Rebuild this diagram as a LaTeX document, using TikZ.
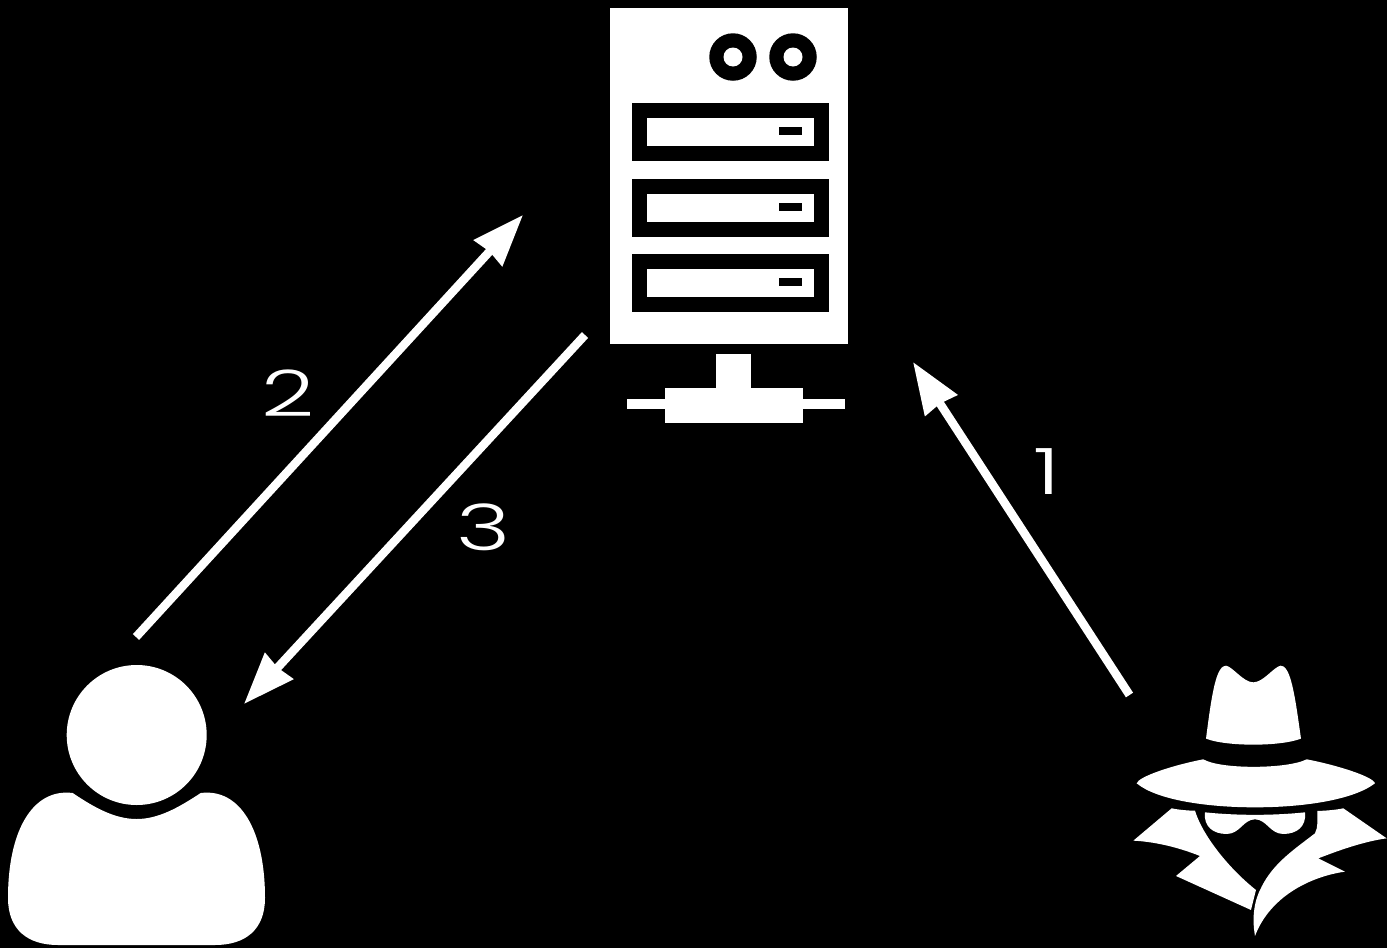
\documentclass[tikz,border=0pt]{standalone}
\usepackage{fontspec}
\usetikzlibrary{arrows.meta}
\newfontfamily\digitfont{Poppins Light}
\definecolor{bg}{RGB}{0,0,0}
\tikzset{
  box/.style={rectangle,inner sep=0pt,outer sep=0pt,line width=0pt,minimum width=#1},
  whitebox/.style={box=#1,fill=white},
  blackbox/.style={box=#1,fill=black},
  hole/.style={circle,inner sep=0pt,outer sep=0pt,fill=white,minimum size=19pt},
  disc/.style={circle,inner sep=0pt,outer sep=0pt,fill=black,minimum size=47.5pt},
  flow/.style={draw=white,line width=8.5pt,-{Stealth[length=51pt,width=37pt,inset=1.5pt]}},
  digit/.style={text=white,inner sep=0pt,font=\digitfont\fontsize{64}{64}\selectfont,xscale=1.45},
  icon/.style={fill=white,draw=none}
}
\begin{document}
\begin{tikzpicture}[x=1pt,y=-1pt]
\useasboundingbox (0,0) rectangle (1387,948);
\fill[bg] (0,0) rectangle (1387,948);
% server
\node[whitebox=238pt,minimum height=336pt] (server) at (729,176) {};
\node[disc] (d1) at (733,57) {};
\node[hole] (h1) at (733,57) {};
\node[disc] (d2) at (793,57) {};
\node[hole] (h2) at (793,57) {};
\foreach \n/\y in {a/132,b/207.5,c/283}{
  \node[blackbox=197pt,minimum height=58pt] (drive\n) at (730.5,\y) {};
  \node[whitebox=167pt,minimum height=28pt] (slot\n) at (730.5,\y) {};
  \node[blackbox=23pt,minimum height=8pt] (led\n) at (790.5,\y-1) {};
}
\node[whitebox=35pt,minimum height=34pt] (stem) at (733.5,371) {};
\node[whitebox=218pt,minimum height=10pt] (bar) at (736,404) {};
\node[whitebox=138pt,minimum height=35pt] (block) at (734,405.5) {};
% user
\node[circle,fill=white,inner sep=0pt,outer sep=0pt,minimum size=140pt] (userhead) at (136.7,735) {};
\fill[icon] (72.7,793) .. controls (95,808) and (115,819) .. (136.7,819)
  .. controls (158,819) and (178,808) .. (200.7,793)
  .. controls (240,788) and (265,830) .. (265,898)
  .. controls (265,930) and (245,945) .. (215,945)
  -- (58,945)
  .. controls (28,945) and (8,930) .. (8,898)
  .. controls (8,830) and (33,788) .. (72.7,793) -- cycle;
% spy
\begin{scope}[shift={(1120,650)},x=0.3333pt,y=-0.3333pt]
\fill[icon] (258,266) .. controls (268,190) and (280,90) .. (300,60)
  .. controls (306,50) and (312,47) .. (318,47)
  .. controls (338,50) and (370,97) .. (400,97)
  .. controls (430,97) and (462,50) .. (482,47)
  .. controls (488,47) and (494,50) .. (500,60)
  .. controls (520,90) and (532,190) .. (543,266)
  .. controls (480,290) and (320,290) .. (258,266) -- cycle;
\fill[icon] (50,400) .. controls (55,380) and (160,345) .. (250,328)
  .. controls (300,358) and (500,358) .. (560,328)
  .. controls (650,345) and (760,380) .. (765,400)
  .. controls (700,450) and (550,472) .. (405,472)
  .. controls (260,472) and (110,450) .. (50,400) -- cycle;
\fill[icon] (155,475) .. controls (180,480) and (205,482) .. (225,482)
  .. controls (245,550) and (320,650) .. (408,720)
  -- (393,780) -- (168,678) -- (240,618)
  .. controls (170,590) and (100,575) .. (40,572) -- cycle;
\fill[icon] (255,487) .. controls (350,497) and (460,497) .. (555,487)
  .. controls (560,530) and (530,552) .. (490,552)
  .. controls (450,552) and (440,508) .. (405,508)
  .. controls (370,508) and (360,552) .. (320,552)
  .. controls (280,552) and (250,530) .. (255,487) -- cycle;
\fill[icon] (405,858) .. controls (395,800) and (403,750) .. (425,710)
  .. controls (460,640) and (520,600) .. (585,550)
  .. controls (595,530) and (592,510) .. (592,483)
  .. controls (620,482) and (645,480) .. (670,475)
  -- (800,565)
  .. controls (730,575) and (660,600) .. (595,625)
  -- (675,665)
  .. controls (570,680) and (450,740) .. (405,858) -- cycle;
\end{scope}
% connectors
\coordinate (a1s) at (1129.5,695);
\coordinate (a1e) at (913,362);
\coordinate (a2s) at (136,637);
\coordinate (a2e) at (523,215);
\coordinate (a3s) at (585,335);
\coordinate (a3e) at (244,704);
\draw[flow] (a1s) -- (a1e);
\draw[flow] (a2s) -- (a2e);
\draw[flow] (a3s) -- (a3e);
% labels
\node[digit] (n1) at (1047,471.5) {1};
\node[digit] (n2) at (288.5,393.5) {2};
\node[digit] (n3) at (483.5,527.5) {3};
\end{tikzpicture}
\end{document}
